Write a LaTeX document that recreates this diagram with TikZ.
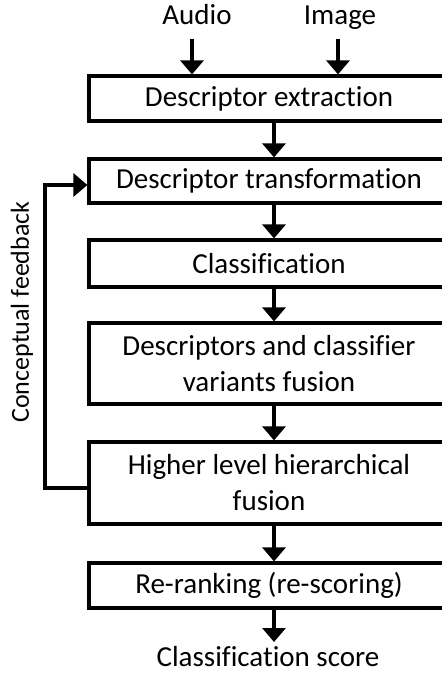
\documentclass[tikz,border=0pt]{standalone}
\usepackage{fontspec}
\setmainfont{Carlito}[Ligatures={NoCommon}]
\usetikzlibrary{arrows.meta}
\begin{document}
\begin{tikzpicture}[x=1pt,y=-1pt,
  box/.style={draw,line width=3.2pt,minimum width=360pt,inner sep=0pt,align=center,font=\fontsize{29}{36}\selectfont},
  lbl/.style={inner sep=0pt,font=\fontsize{29}{36}\selectfont},
  arr/.style={line width=3.2pt,-{Triangle[width=23pt,length=14pt]}}]
\useasboundingbox (0,0) rectangle (442,673);
\node[box,minimum height=45pt] (b1) at (269,98.5) {Descriptor extraction};
\node[box,minimum height=44pt] (b2) at (269,181) {Descriptor transformation};
\node[box,minimum height=47pt] (b3) at (269,263.5) {Classification};
\node[box,minimum height=81pt] (b4) at (269,363.5) {Descriptors and classifier\\variants fusion};
\node[box,minimum height=82pt] (b5) at (269,483) {Higher level hierarchical\\fusion};
\node[box,minimum height=45pt] (b6) at (269,585.5) {Re-ranking (re-scoring)};
\node[lbl,anchor=base] (audio) at (197,24) {Audio};
\node[lbl,anchor=base] (image) at (340,24) {Image};
\node[lbl,anchor=base] (score) at (268,666) {Classification score};
\node[lbl,rotate=90,font=\fontsize{26}{32}\selectfont] (cf) at (22,312) {Conceptual feedback};
\coordinate (a1) at (192,39);
\coordinate (i1) at (338,39);
\draw[arr] (a1) -- (a1 |- b1.north);
\draw[arr] (i1) -- (i1 |- b1.north);
\coordinate (cx) at (274,0);
\draw[arr] (cx |- b1.south) -- (cx |- b2.north);
\draw[arr] (cx |- b2.south) -- (cx |- b3.north);
\draw[arr] (cx |- b3.south) -- (cx |- b4.north);
\draw[arr] (cx |- b4.south) -- (cx |- b5.north);
\draw[arr] (cx |- b5.south) -- (cx |- b6.north);
\coordinate (st) at (274,642);
\draw[arr] (cx |- b6.south) -- (st);
\coordinate (f1) at (45,488);
\coordinate (f2) at (45,185);
\draw[arr] (b5.west |- f1) -- (f1) -- (f2) -- (b2.west |- f2);
\end{tikzpicture}
\end{document}
